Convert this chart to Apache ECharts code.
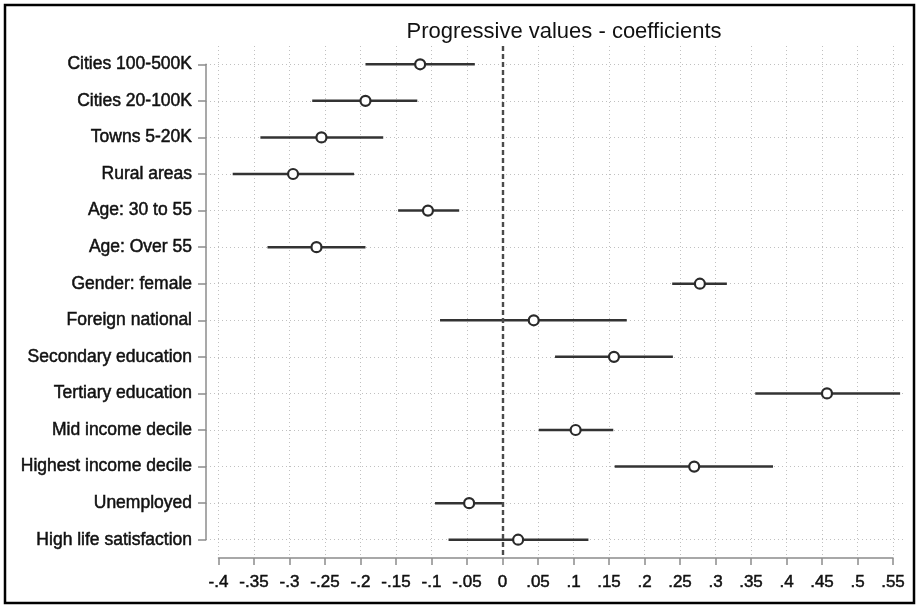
<!DOCTYPE html>
<html>
<head>
<meta charset="utf-8">
<script src="https://cdn.jsdelivr.net/npm/echarts@6/dist/echarts.min.js"></script>
<style>
  html, body { margin: 0; padding: 0; background: #fff; }
  #main { width: 919px; height: 608px; }
</style>
</head>
<body>
<div id="main"></div>
<script>
// rows, top to bottom
var categories = [
    'Cities 100-500K', 'Cities 20-100K', 'Towns 5-20K', 'Rural areas',
    'Age: 30 to 55', 'Age: Over 55', 'Gender: female', 'Foreign national',
    'Secondary education', 'Tertiary education', 'Mid income decile',
    'Highest income decile', 'Unemployed', 'High life satisfaction'
];
// point estimates and 95% CI bounds
var coef = [-0.116, -0.193, -0.255, -0.295, -0.105, -0.262, 0.278, 0.044, 0.157, 0.457, 0.103, 0.270, -0.047, 0.022];
var lower = [-0.193, -0.268, -0.341, -0.380, -0.147, -0.331, 0.239, -0.088, 0.074, 0.356, 0.051, 0.158, -0.095, -0.076];
var upper = [-0.039, -0.120, -0.168, -0.209, -0.061, -0.193, 0.316, 0.175, 0.240, 0.560, 0.156, 0.381, 0.000, 0.121];

var xMin = -0.4, xMax = 0.55, xStep = 0.05;

var dom = document.getElementById('main');
var myChart = echarts.init(dom);

var fontFam = 'Liberation Sans, Arial, sans-serif';

function fmtTick(v) {
    var s = String(+v.toFixed(2));
    return s.replace(/^(-?)0\./, '$1.');
}

var ciData = categories.map(function (c, i) { return [lower[i], upper[i], i]; });
var ptData = categories.map(function (c, i) { return [coef[i], i]; });

var option = {
    backgroundColor: '#fff',
    animation: false,
    textStyle: { fontFamily: fontFam },
    title: {
        text: 'Progressive values - coefficients',
        left: 559,
        textAlign: 'center',
        top: 16,
        textStyle: { fontFamily: fontFam, fontSize: 22, fontWeight: 'normal', color: '#111' }
    },
    graphic: [{
        type: 'rect',
        shape: { x: 5, y: 5, width: 909, height: 598 },
        style: { fill: 'none', stroke: '#000', lineWidth: 2.5 },
        z: 100
    }],
    grid: [
        { left: 218.5, right: 26, top: 46, bottom: 50 },
        { left: 206, right: 14, top: 64.3, bottom: 68.3 }
    ],
    xAxis: [{
        gridIndex: 0,
        type: 'value',
        min: xMin,
        max: xMax,
        interval: xStep,
        axisLine: { show: true, onZero: false, lineStyle: { color: '#8c8c8c', width: 1.5 } },
        axisTick: { show: true, length: 7, lineStyle: { color: '#8c8c8c', width: 1.5 } },
        axisLabel: {
            formatter: fmtTick,
            color: '#111',
            fontSize: 17,
            margin: 16,
            fontFamily: fontFam,
            textBorderColor: '#111',
            textBorderWidth: 0.5,
            showMaxLabel: true
        },
        splitLine: { show: true, lineStyle: { color: '#c0c0c0', type: [1, 3], width: 1 } }
    }, {
        gridIndex: 1,
        type: 'value',
        min: 0,
        max: 1,
        show: false
    }],
    yAxis: [{
        gridIndex: 0,
        type: 'category',
        inverse: true,
        data: categories,
        offset: 12.5,
        axisLine: { show: false, onZero: false },
        axisTick: { show: true, alignWithLabel: true, length: 8, lineStyle: { color: '#8c8c8c', width: 1.5 } },
        axisLabel: {
            color: '#111', fontSize: 17.5, margin: 14, fontFamily: fontFam,
            textBorderColor: '#111', textBorderWidth: 0.5
        },
        splitLine: { show: false }
    }, {
        gridIndex: 1,
        type: 'value',
        inverse: true,
        min: 0,
        max: categories.length - 1,
        interval: 1,
        axisLine: { show: true, onZero: false, lineStyle: { color: '#8c8c8c', width: 1.5 } },
        axisTick: { show: false },
        axisLabel: { show: false },
        splitLine: { show: true, lineStyle: { color: '#c0c0c0', type: [1, 3], width: 1 } }
    }],
    series: [
        {
            name: 'CI',
            type: 'custom',
            xAxisIndex: 0,
            yAxisIndex: 0,
            encode: { x: [0, 1], y: 2 },
            renderItem: function (params, api) {
                var a = api.coord([api.value(0), api.value(2)]);
                var b = api.coord([api.value(1), api.value(2)]);
                return {
                    type: 'line',
                    shape: { x1: a[0], y1: a[1], x2: b[0], y2: b[1] },
                    style: { stroke: '#333', lineWidth: 2.5 }
                };
            },
            data: ciData,
            z: 3
        },
        {
            name: 'Coefficient',
            type: 'scatter',
            xAxisIndex: 0,
            yAxisIndex: 0,
            symbol: 'circle',
            symbolSize: 10,
            itemStyle: { color: '#fff', borderColor: '#2a2a2a', borderWidth: 2.2, opacity: 1 },
            data: ptData,
            markLine: {
                silent: true,
                symbol: 'none',
                label: { show: false },
                lineStyle: { color: '#4a4a4a', type: [5, 3], width: 2.4 },
                data: [{ xAxis: 0 }]
            },
            z: 4
        }
    ]
};

if (option && typeof option === "object") {
    myChart.setOption(option, true);
}
</script>
</body>
</html>
